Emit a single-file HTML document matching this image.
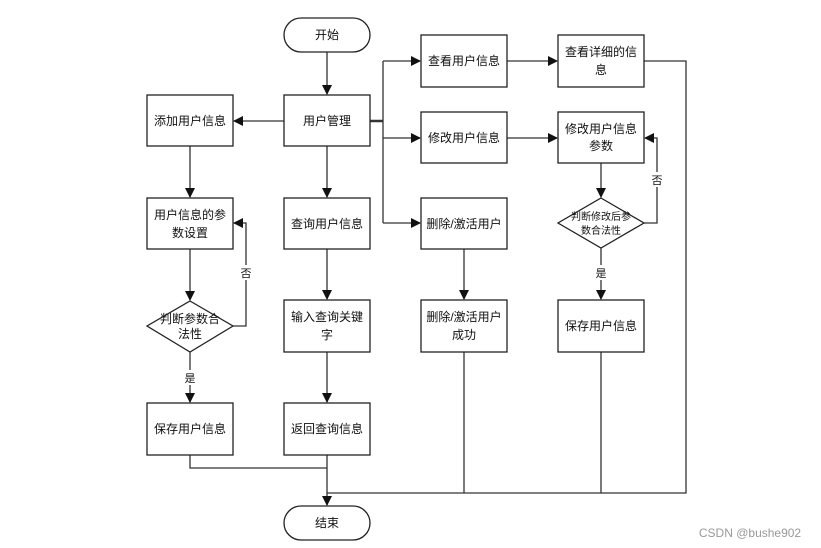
<!DOCTYPE html>
<html><head><meta charset="utf-8"><style>
html,body{margin:0;padding:0;background:#fff;}
svg{display:block;}
text{font-family:"Liberation Sans","Noto Sans CJK SC",sans-serif;font-size:12px;fill:#111;text-anchor:middle;}
.b{fill:#fff;stroke:#222;stroke-width:1.3;}
.l{fill:none;stroke:#333;stroke-width:1.3;}
</style></head><body>
<svg width="821" height="548" viewBox="0 0 821 548" xmlns="http://www.w3.org/2000/svg">
<defs><marker id="a" markerWidth="10" markerHeight="10" refX="9" refY="5" orient="auto" markerUnits="userSpaceOnUse"><path d="M0,0 L10,5 L0,10 z" fill="#111"/></marker></defs>
<!-- connectors -->
<path class="l" d="M327,52 V94" marker-end="url(#a)"/>
<path class="l" d="M284,121 H234" marker-end="url(#a)"/>
<path class="l" d="M190,146 V197" marker-end="url(#a)"/>
<path class="l" d="M190,249 V300" marker-end="url(#a)"/>
<path class="l" d="M233,326 H246 V223 H234" marker-end="url(#a)"/>
<path class="l" d="M190,352 V402" marker-end="url(#a)"/>
<path class="l" d="M327,146 V197" marker-end="url(#a)"/>
<path class="l" d="M327,249 V299" marker-end="url(#a)"/>
<path class="l" d="M327,352 V402" marker-end="url(#a)"/>
<path class="l" d="M190,455 V468 H327"/>
<path class="l" d="M327,455 V505" marker-end="url(#a)"/>
<path class="l" d="M370,121 H383" style="stroke-width:2.5"/>
<path class="l" d="M383,61 V223"/>
<path class="l" d="M383,61 H420" marker-end="url(#a)"/>
<path class="l" d="M383,138 H420" marker-end="url(#a)"/>
<path class="l" d="M383,223 H420" marker-end="url(#a)"/>
<path class="l" d="M507,61 H557" marker-end="url(#a)"/>
<path class="l" d="M507,138 H557" marker-end="url(#a)"/>
<path class="l" d="M464,249 V299" marker-end="url(#a)"/>
<path class="l" d="M601,163 V197" marker-end="url(#a)"/>
<path class="l" d="M644,223 H657 V138 H645" marker-end="url(#a)"/>
<path class="l" d="M601,248 V299" marker-end="url(#a)"/>
<path class="l" d="M644,61 H686 V493 H327"/>
<path class="l" d="M464,352 V493"/>
<path class="l" d="M601,352 V493"/>
<!-- labels on lines -->
<rect x="240" y="265" width="12" height="15" fill="#fff"/><text x="246" y="277" style="font-size:11px">否</text>
<rect x="184" y="370" width="12" height="15" fill="#fff"/><text x="190" y="382" style="font-size:11px">是</text>
<rect x="651" y="172" width="12" height="15" fill="#fff"/><text x="657" y="184" style="font-size:11px">否</text>
<rect x="595" y="265" width="12" height="15" fill="#fff"/><text x="601" y="277" style="font-size:11px">是</text>
<!-- nodes -->
<rect class="b" x="284" y="18" width="86" height="34" rx="17"/><text x="327" y="39">开始</text>
<rect class="b" x="284" y="506" width="86" height="34" rx="17"/><text x="327" y="527">结束</text>
<rect class="b" x="284" y="95" width="86" height="51"/><text x="327" y="125">用户管理</text>
<rect class="b" x="147" y="95" width="86" height="51"/><text x="190" y="125">添加用户信息</text>
<rect class="b" x="147" y="198" width="86" height="51"/><text x="190" y="219">用户信息的参</text><text x="190" y="237">数设置</text>
<polygon class="b" points="190,301 233,326 190,352 147,326"/><text x="190" y="323">判断参数合</text><text x="190" y="338">法性</text>
<rect class="b" x="147" y="403" width="86" height="52"/><text x="190" y="433">保存用户信息</text>
<rect class="b" x="284" y="198" width="86" height="51"/><text x="327" y="228">查询用户信息</text>
<rect class="b" x="284" y="300" width="86" height="52"/><text x="327" y="321">输入查询关键</text><text x="327" y="339">字</text>
<rect class="b" x="284" y="403" width="86" height="52"/><text x="327" y="433">返回查询信息</text>
<rect class="b" x="421" y="35" width="86" height="52"/><text x="464" y="65">查看用户信息</text>
<rect class="b" x="421" y="112" width="86" height="51"/><text x="464" y="142">修改用户信息</text>
<rect class="b" x="421" y="198" width="86" height="51"/><text x="464" y="228">删除/激活用户</text>
<rect class="b" x="421" y="300" width="86" height="52"/><text x="464" y="321">删除/激活用户</text><text x="464" y="339">成功</text>
<rect class="b" x="558" y="35" width="86" height="52"/><text x="601" y="56">查看详细的信</text><text x="601" y="74">息</text>
<rect class="b" x="558" y="112" width="86" height="51"/><text x="601" y="133">修改用户信息</text><text x="601" y="150">参数</text>
<polygon class="b" points="601,198 644,223 601,248 558,223"/><text x="601" y="220" style="font-size:10px">判断修改后参</text><text x="601" y="234" style="font-size:10px">数合法性</text>
<rect class="b" x="558" y="300" width="86" height="52"/><text x="601" y="330">保存用户信息</text>
<text x="750" y="537" style="font-size:12px;fill:#999">CSDN @bushe902</text>
</svg>
</body></html>
